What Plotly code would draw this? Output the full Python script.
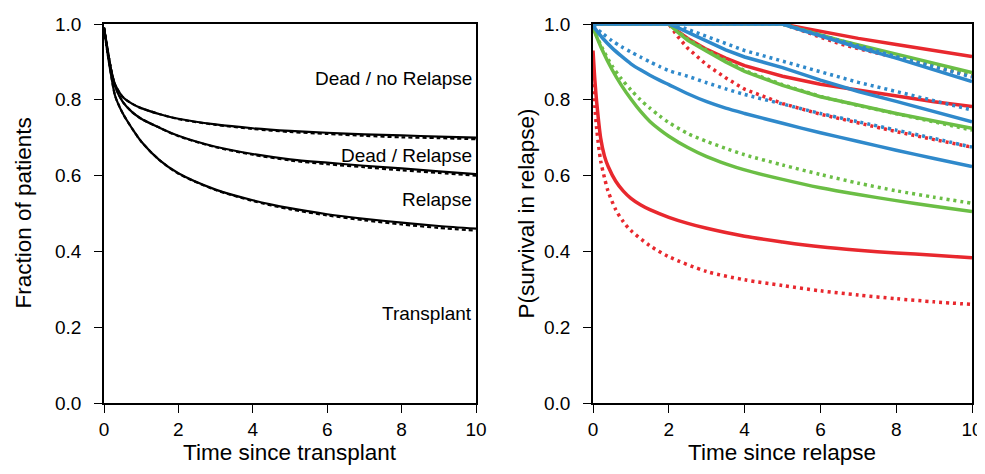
import plotly.graph_objects as go

# ---------------- Left panel data (time since transplant) ----------------
t_left = [0, 0.1, 0.2, 0.3, 0.5, 0.75, 1, 1.5, 2, 3, 4, 5, 6, 7, 8, 9, 10]
dead_norelapse_solid = [0.99, 0.93, 0.875, 0.84, 0.808, 0.790, 0.778, 0.762, 0.750, 0.735, 0.725, 0.718, 0.713, 0.709, 0.706, 0.703, 0.700]
dead_norelapse_dash  = [0.99, 0.93, 0.875, 0.84, 0.808, 0.790, 0.778, 0.762, 0.749, 0.734, 0.723, 0.715, 0.710, 0.705, 0.701, 0.699, 0.696]
dead_relapse_solid   = [0.99, 0.93, 0.875, 0.835, 0.795, 0.768, 0.750, 0.726, 0.705, 0.676, 0.657, 0.643, 0.634, 0.626, 0.619, 0.611, 0.604]
dead_relapse_dash    = [0.99, 0.93, 0.875, 0.835, 0.795, 0.768, 0.750, 0.726, 0.704, 0.675, 0.655, 0.640, 0.630, 0.622, 0.614, 0.607, 0.600]
relapse_solid        = [0.99, 0.92, 0.86, 0.81, 0.765, 0.725, 0.690, 0.640, 0.606, 0.563, 0.535, 0.514, 0.498, 0.486, 0.476, 0.467, 0.460]
relapse_dash         = [0.99, 0.92, 0.86, 0.81, 0.765, 0.725, 0.690, 0.640, 0.605, 0.562, 0.533, 0.511, 0.495, 0.482, 0.471, 0.462, 0.455]

state_labels = ["Dead / no Relapse", "Dead / Relapse", "Relapse", "Transplant"]
state_label_y = [0.855, 0.654, 0.538, 0.235]

# ---------------- Right panel data (time since relapse) ----------------
# curves starting at t = 0
t0_red = [0, 0.05, 0.1, 0.2, 0.3, 0.4, 0.6, 0.8, 1, 1.25, 1.5, 2, 2.5, 3, 4, 5, 6, 7, 8, 9, 10]
red0_solid = [0.93, 0.85, 0.79, 0.70, 0.652, 0.624, 0.585, 0.559, 0.540, 0.523, 0.510, 0.490, 0.474, 0.461, 0.440, 0.425, 0.412, 0.403, 0.396, 0.390, 0.383]
t0_red_dot = [0.02, 0.05, 0.1, 0.2, 0.3, 0.4, 0.6, 0.8, 1, 1.5, 2, 3, 4, 5, 6, 7, 8, 9, 10]
red0_dot = [0.86, 0.78, 0.72, 0.64, 0.595, 0.558, 0.510, 0.478, 0.455, 0.415, 0.386, 0.347, 0.325, 0.310, 0.296, 0.285, 0.275, 0.267, 0.260]

t0 = [0, 0.25, 0.5, 0.75, 1, 1.25, 1.5, 1.75, 2, 2.5, 3, 3.5, 4, 5, 6, 7, 8, 9, 10]
green0_solid = [0.99, 0.930, 0.880, 0.838, 0.802, 0.770, 0.743, 0.722, 0.704, 0.674, 0.650, 0.631, 0.615, 0.590, 0.568, 0.550, 0.534, 0.519, 0.505]
green0_dot   = [0.99, 0.935, 0.890, 0.855, 0.826, 0.800, 0.778, 0.758, 0.740, 0.711, 0.690, 0.672, 0.655, 0.628, 0.603, 0.580, 0.560, 0.543, 0.527]
blue0_solid  = [0.995, 0.963, 0.937, 0.915, 0.895, 0.879, 0.865, 0.852, 0.840, 0.816, 0.795, 0.778, 0.764, 0.738, 0.713, 0.690, 0.667, 0.645, 0.624]
blue0_dot    = [0.995, 0.975, 0.956, 0.940, 0.926, 0.913, 0.900, 0.888, 0.877, 0.862, 0.845, 0.829, 0.814, 0.789, 0.764, 0.742, 0.720, 0.698, 0.675]

# curves starting at t = 2 (flat at 1.0 before)
t2 = [0, 2, 2.25, 2.5, 3, 3.5, 4, 5, 6, 7, 8, 9, 10]
red2_solid   = [1.0, 1.0, 0.980, 0.962, 0.933, 0.910, 0.890, 0.862, 0.841, 0.825, 0.809, 0.795, 0.782]
red2_dot     = [1.0, 1.0, 0.965, 0.936, 0.892, 0.858, 0.828, 0.790, 0.762, 0.738, 0.716, 0.695, 0.675]
green2_solid = [1.0, 1.0, 0.977, 0.957, 0.928, 0.900, 0.875, 0.838, 0.808, 0.785, 0.764, 0.744, 0.725]
green2_dot   = [1.0, 1.0, 0.979, 0.960, 0.931, 0.903, 0.877, 0.840, 0.809, 0.785, 0.763, 0.741, 0.720]
blue2_solid  = [1.0, 1.0, 0.990, 0.978, 0.955, 0.932, 0.913, 0.885, 0.852, 0.822, 0.796, 0.769, 0.742]
blue2_dot    = [1.0, 1.0, 0.995, 0.986, 0.967, 0.948, 0.930, 0.902, 0.873, 0.846, 0.822, 0.797, 0.773]

# curves starting at t = 5
t5 = [0, 5, 5.5, 6, 6.5, 7, 8, 9, 10]
red5_solid   = [1.0, 1.0, 0.990, 0.980, 0.970, 0.962, 0.946, 0.930, 0.914]
red5_dot     = [1.0, 1.0, 0.983, 0.965, 0.948, 0.935, 0.912, 0.888, 0.863]
green5_solid = [1.0, 1.0, 0.985, 0.970, 0.957, 0.945, 0.920, 0.895, 0.872]
green5_dot   = [1.0, 1.0, 0.985, 0.970, 0.956, 0.943, 0.916, 0.890, 0.866]
blue5_solid  = [1.0, 1.0, 0.984, 0.968, 0.953, 0.938, 0.910, 0.878, 0.848]
blue5_dot    = [1.0, 1.0, 0.985, 0.970, 0.955, 0.942, 0.914, 0.887, 0.860]

RED = "#E8282E"
GREEN = "#6BBE45"
BLUE = "#2F89CB"
DOT = "3px,4px"
LW = 3.5

fig = go.Figure()

def add(x, y, color, width, dash, axis, shape="spline"):
    fig.add_trace(go.Scatter(
        x=x, y=y, mode="lines", xaxis="x" + axis, yaxis="y" + axis,
        line=dict(color=color, width=width, dash=dash, shape=shape, smoothing=0.8),
        hoverinfo="skip", showlegend=False))

# left panel
for ys, yd in [(dead_norelapse_solid, dead_norelapse_dash),
               (dead_relapse_solid, dead_relapse_dash),
               (relapse_solid, relapse_dash)]:
    add(t_left, yd, "black", 2.2, "4px,3px", "")
    add(t_left, ys, "black", 2.2, "solid", "")

# right panel
add(t0_red, red0_solid, RED, LW, "solid", "2")
add(t0_red_dot, red0_dot, RED, LW, DOT, "2")
add(t0, green0_solid, GREEN, LW, "solid", "2")
add(t0, green0_dot, GREEN, LW, DOT, "2")
add(t0, blue0_solid, BLUE, LW, "solid", "2")
add(t0, blue0_dot, BLUE, LW, DOT, "2")
for (y_s, y_d, c) in [(red2_solid, red2_dot, RED), (green2_solid, green2_dot, GREEN), (blue2_solid, blue2_dot, BLUE)]:
    add(t2, y_s, c, LW, "solid", "2", "linear")
    add(t2, y_d, c, LW, DOT, "2", "linear")
for (y_s, y_d, c) in [(red5_solid, red5_dot, RED), (green5_solid, green5_dot, GREEN), (blue5_solid, blue5_dot, BLUE)]:
    add(t5, y_s, c, LW, "solid", "2", "linear")
    add(t5, y_d, c, LW, DOT, "2", "linear")

FONT = "Liberation Sans, Arial, Helvetica, sans-serif"
axis_common = dict(
    showline=True, linecolor="black", linewidth=1.6, mirror=True,
    ticks="outside", ticklen=8, tickwidth=1.3, tickcolor="black",
    showgrid=False, zeroline=False, automargin=False,
    tickfont=dict(family=FONT, size=19, color="black"),
)
ytick_extra = dict(ticklabelstandoff=9)

# page body has an 8px margin, so the figure is shrunk by 8px and margins shifted
fig.update_layout(
    width=977, height=466,
    margin=dict(l=96, r=13, t=16, b=71, autoexpand=False),
    paper_bgcolor="white", plot_bgcolor="white",
    font=dict(family=FONT, color="black"),
    xaxis=dict(domain=[0, 0.4286], range=[0, 10], tickvals=[0, 2, 4, 6, 8, 10],
               anchor="y", **axis_common),
    yaxis=dict(domain=[0, 1], range=[0, 1], tickvals=[0, 0.2, 0.4, 0.6, 0.8, 1.0],
               tickformat=".1f", anchor="x", **axis_common, **ytick_extra),
    xaxis2=dict(domain=[0.5634, 1], range=[0, 10], tickvals=[0, 2, 4, 6, 8, 10],
                anchor="y2", **axis_common),
    yaxis2=dict(domain=[0, 1], range=[0, 1], tickvals=[0, 0.2, 0.4, 0.6, 0.8, 1.0],
                tickformat=".1f", anchor="x2", **axis_common, **ytick_extra),
)

for lab, yv in zip(state_labels, state_label_y):
    fig.add_annotation(x=10, y=yv, xref="x", yref="y", text=lab, showarrow=False,
                       xanchor="right", yanchor="middle", xshift=-2,
                       font=dict(family=FONT, size=19, color="black"))

title_font = dict(family=FONT, size=22.5, color="black")
fig.add_annotation(x=-81 / 868, y=0.5, xref="paper", yref="paper", text="Fraction of patients",
                   textangle=-90, showarrow=False, xanchor="center", yanchor="middle", font=title_font)
fig.add_annotation(x=(526 - 104) / 868, y=0.5, xref="paper", yref="paper", text="P(survival in relapse)",
                   textangle=-90, showarrow=False, xanchor="center", yanchor="middle", font=title_font)
fig.add_annotation(x=(290 - 104) / 868, y=-49 / 379, xref="paper", yref="paper", text="Time since transplant",
                   showarrow=False, xanchor="center", yanchor="middle", font=title_font)
fig.add_annotation(x=(782 - 104) / 868, y=-49 / 379, xref="paper", yref="paper", text="Time since relapse",
                   showarrow=False, xanchor="center", yanchor="middle", font=title_font)

fig.write_html("out.html")
